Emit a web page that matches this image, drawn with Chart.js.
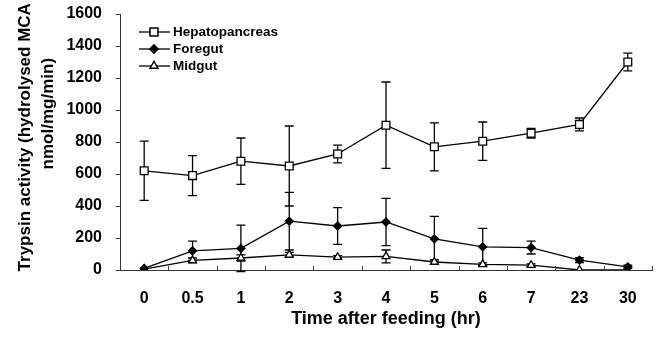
<!DOCTYPE html>
<html>
<head>
<meta charset="utf-8">
<script src="https://cdn.jsdelivr.net/npm/chart.js@4.4.1/dist/chart.umd.min.js"></script>
<style>
  html, body { margin: 0; padding: 0; background: #fff; }
  #wrap { width: 661px; height: 340px; }
</style>
</head>
<body>
<div id="wrap"><canvas id="chart"></canvas></div>
<script>
// time points (hr) after feeding
const times = ["0", "0.5", "1", "2", "3", "4", "5", "6", "7", "23", "30"];

// trypsin activity, nmol/mg/min
const hepatopancreas = [620, 590, 680, 650, 725, 905, 770, 805, 855, 910, 1300];
const hepatopancreasErr = [185, 125, 145, 250, 55, 270, 150, 120, 30, 40, 55];
const foregut = [10, 120, 135, 305, 275, 300, 195, 145, 140, 62, 20];
const foregutErr = [0, 60, 145, 180, 115, 148, 140, 115, 40, 15, 10];
const midgut = [5, 60, 75, 95, 80, 85, 50, 35, 30, 0, 0];
const midgutErr = [0, 15, 20, 15, 10, 40, 15, 10, 8, 0, 0];

const yMin = 0;
const yMax = 1600;
const yStep = 200;

const errors = [hepatopancreasErr, foregutErr, midgutErr];

const FONT = "'Liberation Sans', Arial, sans-serif";

//error bars drawn under the markers
const errorBars = {
  id: "errorBars",
  beforeDatasetsDraw(chart) {
    const ctx = chart.ctx;
    const y = chart.scales.y;
    ctx.save();
    ctx.strokeStyle = "#000";
    ctx.lineWidth = 1.3;
    chart.data.datasets.forEach((ds, i) => {
      const meta = chart.getDatasetMeta(i);
      meta.data.forEach((pt, j) => {
        const err = errors[i][j];
        if (!err) return;
        const top = y.getPixelForValue(ds.data[j] + err);
        const bot = y.getPixelForValue(ds.data[j] - err);
        const cap = 4.5;
        ctx.beginPath();
        ctx.moveTo(pt.x, top);
        ctx.lineTo(pt.x, bot);
        ctx.moveTo(pt.x - cap, top);
        ctx.lineTo(pt.x + cap, top);
        ctx.moveTo(pt.x - cap, bot);
        ctx.lineTo(pt.x + cap, bot);
        ctx.stroke();
      });
    });
    ctx.restore();
  },
};

//small inward ticks between categories on the x axis
const xTicks = {
  id: "xTicks",
  afterDraw(chart) {
    const ctx = chart.ctx;
    const area = chart.chartArea;
    const n = times.length;
    const step = (area.right - area.left) / n;
    ctx.save();
    ctx.strokeStyle = "#444";
    ctx.lineWidth = 1;
    ctx.beginPath();
    for (let i = 1; i <= n; i++) {
      const px = Math.round(area.left + step * i) + 0.5;
      ctx.moveTo(px, area.bottom);
      ctx.lineTo(px, area.bottom - 4);
    }
    ctx.stroke();
    ctx.restore();
  },
};

//legend: line - marker - line, inside plot area
const lineLegend = {
  id: "lineLegend",
  afterDraw(chart) {
    const ctx = chart.ctx;
    const rows = [32, 49, 66];
    ctx.save();
    chart.data.datasets.forEach((ds, i) => {
      const yy = rows[i];
      ctx.strokeStyle = "#000";
      ctx.lineWidth = 1.3;
      ctx.beginPath();
      ctx.moveTo(139, yy);
      ctx.lineTo(170, yy);
      ctx.stroke();
      Chart.helpers.drawPoint(ctx, {
        pointStyle: ds.pointStyle,
        radius: ds.pointRadius,
        rotation: 0,
        borderWidth: 1.3,
      }, 154, yy);
      ctx.fillStyle = ds.pointBackgroundColor;
      ctx.strokeStyle = "#000";
      ctx.fill();
      ctx.stroke();
      ctx.fillStyle = "#000";
      ctx.font = "bold 13.5px " + FONT;
      ctx.textBaseline = "middle";
      ctx.fillText(ds.label, 173, yy + 0.5);
    });
    ctx.restore();
  },
};

const common = {
  borderColor: "#000",
  borderWidth: 1.3,
  pointBorderColor: "#000",
  pointBorderWidth: 1.3,
  tension: 0,
  fill: false,
};

new Chart(document.getElementById("chart"), {
  type: "line",
  plugins: [errorBars, xTicks, lineLegend],
  data: {
    labels: times,
    datasets: [
      {
        ...common,
        label: "Hepatopancreas",
        data: hepatopancreas,
        pointStyle: "rect",
        pointRadius: 5.5,
        pointBackgroundColor: "#fff",
      },
      {
        ...common,
        label: "Foregut",
        data: foregut,
        pointStyle: "rectRot",
        pointRadius: 4,
        pointBackgroundColor: "#000",
      },
      {
        ...common,
        label: "Midgut",
        data: midgut,
        pointStyle: "triangle",
        pointRadius: 4.5,
        pointBackgroundColor: "#fff",
      },
    ],
  },
  options: {
    responsive: true,
    maintainAspectRatio: false,
    animation: false,
    layout: { padding: { top: 14, right: 9, left: 0, bottom: 0 } },
    plugins: {
      legend: { display: false },
      tooltip: { enabled: false },
    },
    scales: {
      x: {
        offset: true,
        grid: { display: false, drawTicks: false },
        border: { display: true, color: "#333", width: 1 },
        ticks: {
          color: "#000",
          padding: 19,
          font: { family: FONT, size: 16, weight: "bold" },
        },
        title: {
          display: true,
          text: "Time after feeding (hr)",
          color: "#000",
          padding: { top: 0, bottom: 10 },
          font: { family: FONT, size: 18, weight: "bold" },
        },
        afterFit(s) {
          s.height = 70;
          s.paddingLeft = 0;
          s.paddingRight = 0;
        },
      },
      y: {
        min: yMin,
        max: yMax,
        ticks: {
          stepSize: yStep,
          color: "#000",
          padding: 14,
          font: { family: FONT, size: 16, weight: "bold" },
          callback: (v) => String(v),
        },
        grid: { display: true, drawOnChartArea: false, tickLength: 4, color: "#333" },
        border: { display: true, color: "#333", width: 1 },
        title: {
          display: true,
          text: ["  Trypsin activity (hydrolysed MCA", "            nmol/mg/min)"],
          color: "#000",
          padding: { top: 14, bottom: 0 },
          font: { family: FONT, size: 17, weight: "bold", lineHeight: 1.35 },
        },
        afterFit(s) {
          s.width = 120;
          s.paddingTop = 0;
          s.paddingBottom = 0;
        },
      },
    },
  },
});
</script>
</body>
</html>
